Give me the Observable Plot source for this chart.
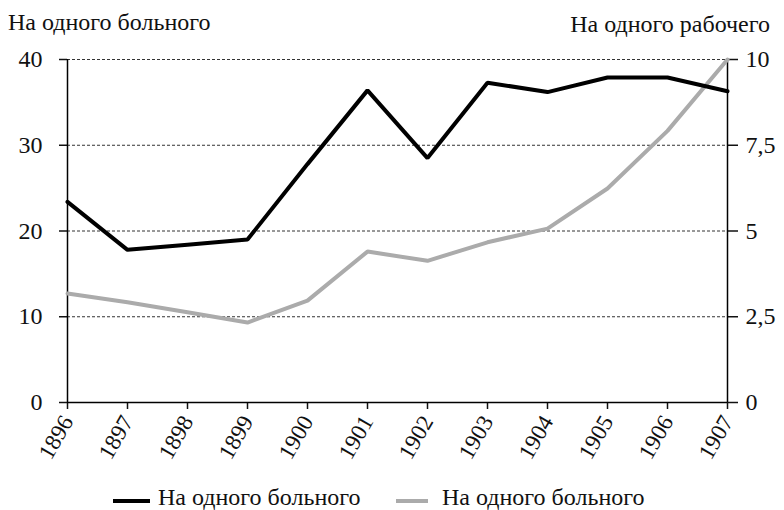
<!DOCTYPE html>
<html><head><meta charset="utf-8">
<script src="https://cdn.jsdelivr.net/npm/d3@7"></script>
<script src="https://cdn.jsdelivr.net/npm/@observablehq/plot@0.6"></script>
<style>
body{margin:0;background:#fff;}
#wrap{position:relative;width:784px;height:510px;overflow:hidden;font-family:'Liberation Serif',serif;color:#111;}
#wrap svg{display:block;}
#wrap svg text{font-family:'Liberation Serif',serif;}
.lg{position:absolute;font-family:'Liberation Serif',serif;font-size:24px;line-height:22px;height:22px;white-space:nowrap;}
.sw{position:absolute;height:4px;}
</style></head>
<body><div id="wrap"></div>
<script>
const years = [1896, 1897, 1898, 1899, 1900, 1901, 1902, 1903, 1904, 1905, 1906, 1907];
const perPatient = [23.4, 17.8, 18.4, 19.0, 27.8, 36.4, 28.5, 37.3, 36.2, 37.9, 37.9, 36.3];
const perWorker = [3.18, 2.92, 2.63, 2.33, 2.97, 4.40, 4.13, 4.67, 5.07, 6.24, 7.92, 10.0];
const leftTicks = [0, 10, 20, 30, 40];
const rightTicks = [0, 2.5, 5, 7.5, 10];
const seriesNames = ["На одного больного", "На одного больного"];
const axisTitles = ["На одного больного", "На одного рабочего"];
const colors = ["#000000", "#ababab"];

const ratio = 40 / 10;
const rows = years.map((y, i) => ({year: y, a: perPatient[i], b: perWorker[i] * ratio}));

const plot = Plot.plot({
  width: 784, height: 470,
  marginTop: 59, marginBottom: 68, marginLeft: 67, marginRight: 57,
  x: {domain: [1896, 1907]},
  y: {domain: [0, 40]},
  style: {fontFamily: "'Liberation Serif', serif", fontSize: "24px", color: "#111", background: "white"},
  marks: [
    Plot.ruleY(leftTicks.filter(d => d > 0), {stroke: "#333", strokeDasharray: "3,2", strokeWidth: 1}),
    Plot.axisY({anchor: "left", ticks: leftTicks, tickSize: 8, tickPadding: 17, label: null, tickFormat: d => String(d), strokeWidth: 1.5}),
    Plot.axisY({anchor: "right", ticks: rightTicks.map(d => d * ratio), tickSize: 10, tickPadding: 8, label: null,
      tickFormat: d => String(d / ratio).replace(".", ","), strokeWidth: 1.5}),
    Plot.axisX({ticks: years, tickSize: 7, tickPadding: 8, tickRotate: -60, label: null, tickFormat: d => String(d), strokeWidth: 1.5, fontSize: 23}),
    Plot.ruleX([years[0], years[years.length - 1]], {stroke: "#000", strokeWidth: 1.5}),
    Plot.ruleY([0], {stroke: "#000", strokeWidth: 1.5}),
    Plot.lineY(rows, {x: "year", y: "b", stroke: colors[1], strokeWidth: 4, strokeLinejoin: "miter"}),
    Plot.lineY(rows, {x: "year", y: "a", stroke: colors[0], strokeWidth: 4, strokeLinejoin: "miter"})
  ]
});

const wrap = document.getElementById("wrap");
wrap.appendChild(plot);
const svg = d3.select(plot);
svg.append("text").attr("x", 8).attr("y", 30).attr("text-anchor", "start").attr("font-size", 24).attr("fill", "#111").text(axisTitles[0]);
svg.append("text").attr("x", 770).attr("y", 32).attr("text-anchor", "end").attr("font-size", 24).attr("fill", "#111").text(axisTitles[1]);

const legendPos = [{sw: 113, swW: 37, tx: 158}, {sw: 396, swW: 32, tx: 442}];
seriesNames.forEach((name, i) => {
  const s = document.createElement("div");
  s.className = "sw";
  s.style.left = legendPos[i].sw + "px";
  s.style.width = legendPos[i].swW + "px";
  s.style.top = "499px";
  s.style.background = colors[i];
  wrap.appendChild(s);
  const t = document.createElement("div");
  t.className = "lg";
  t.style.left = legendPos[i].tx + "px";
  t.style.top = "486px";
  t.textContent = name;
  wrap.appendChild(t);
});
</script>
</body></html>
